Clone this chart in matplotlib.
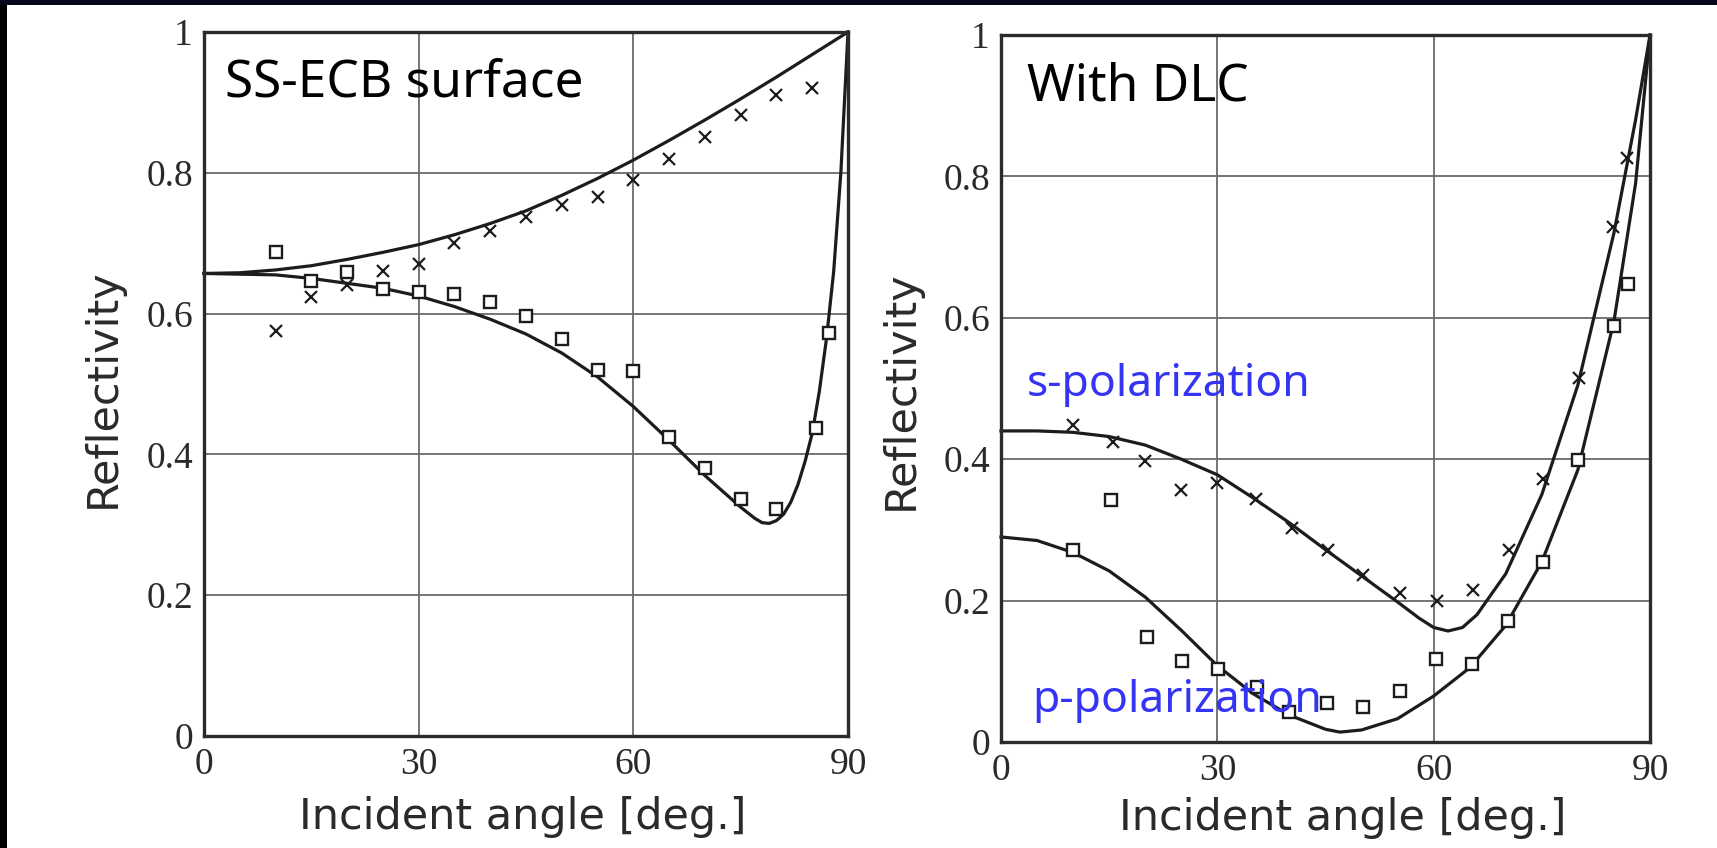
import numpy as np
import matplotlib.pyplot as plt
from matplotlib.patches import Rectangle

# ---- SS-ECB surface (left) ----
ss_angle = [10, 15, 20, 25, 30, 35, 40, 45, 50, 55, 60, 65, 70, 75, 80, 85]
ss_s_meas = [0.575, 0.623, 0.640, 0.660, 0.671, 0.700, 0.718, 0.737, 0.754,
             0.766, 0.790, 0.820, 0.851, 0.882, 0.911, 0.920]
ss_p_angle = [10, 15, 20, 25, 30, 35, 40, 45, 50, 55, 60, 65, 70, 75, 80, 85.5, 87.3]
ss_p_meas = [0.687, 0.647, 0.659, 0.635, 0.630, 0.628, 0.616, 0.596, 0.564,
             0.520, 0.518, 0.425, 0.381, 0.337, 0.323, 0.438, 0.573]

ss_s_fit_angle = [0, 5, 10, 15, 20, 25, 30, 35, 40, 45, 50, 55, 60, 65, 70, 75, 80, 85, 90]
ss_s_fit = [0.657, 0.658, 0.662, 0.668, 0.677, 0.687, 0.698, 0.712, 0.728, 0.746,
            0.768, 0.792, 0.818, 0.846, 0.875, 0.905, 0.936, 0.968, 1.0]
ss_p_fit_angle = [0, 5, 10, 15, 20, 25, 30, 35, 40, 45, 50, 55, 60, 65, 70, 75, 77,
                  78, 79, 80, 81, 82, 83, 84, 85, 86, 87, 88, 89, 90]
ss_p_fit = [0.657, 0.656, 0.655, 0.650, 0.643, 0.636, 0.625, 0.610, 0.592, 0.571,
            0.544, 0.510, 0.468, 0.420, 0.370, 0.325, 0.309, 0.303, 0.302, 0.306,
            0.315, 0.332, 0.357, 0.390, 0.430, 0.490, 0.565, 0.660, 0.800, 1.0]

# ---- With DLC (right) ----
dlc_s_angle = [10, 15.5, 20, 25, 30, 35.4, 40.3, 45.4, 50.2, 55.3, 60.4, 65.4,
               70.4, 75.2, 80.2, 84.9, 86.8]
dlc_s_meas = [0.448, 0.425, 0.398, 0.357, 0.367, 0.344, 0.302, 0.272, 0.236,
              0.211, 0.200, 0.215, 0.271, 0.372, 0.515, 0.728, 0.826]
dlc_p_angle = [10, 15.3, 20.2, 25.1, 30.1, 35.5, 40, 45.2, 50.2, 55.3, 60.3,
               65.3, 70.3, 75.2, 80, 85, 87]
dlc_p_meas = [0.271, 0.342, 0.149, 0.114, 0.103, 0.078, 0.042, 0.055, 0.049,
              0.072, 0.118, 0.111, 0.171, 0.255, 0.399, 0.588, 0.648]

dlc_s_fit_angle = [0, 5, 10, 15, 20, 25, 30, 35, 40, 45, 50, 55, 58, 60, 62, 64,
                   66, 70, 75, 80, 85, 88, 90]
dlc_s_fit = [0.440, 0.440, 0.438, 0.432, 0.420, 0.400, 0.378, 0.345, 0.310, 0.272,
             0.235, 0.198, 0.175, 0.162, 0.157, 0.162, 0.180, 0.238, 0.350, 0.505,
             0.720, 0.880, 1.0]
dlc_p_fit_angle = [0, 5, 10, 15, 20, 25, 30, 35, 40, 45, 47, 50, 55, 60, 65, 70,
                   75, 80, 85, 88, 90]
dlc_p_fit = [0.290, 0.285, 0.268, 0.242, 0.205, 0.158, 0.108, 0.068, 0.038, 0.018,
             0.014, 0.017, 0.033, 0.065, 0.105, 0.165, 0.255, 0.385, 0.595, 0.790, 1.0]

x_ticks = [0, 30, 60, 90]
y_ticks = [0, 0.2, 0.4, 0.6, 0.8, 1.0]
y_ticklabels = ['0', '0.2', '0.4', '0.6', '0.8', '1']

W, H = 1717, 848
fig = plt.figure(figsize=(W / 100, H / 100), dpi=100, facecolor='white')
# dark strips along the left and top edges
fig.patches.append(Rectangle((0, 0), 7 / W, 1, transform=fig.transFigure,
                             facecolor='black', edgecolor='none'))
fig.patches.append(Rectangle((0, 1 - 5 / H), 1, 5 / H, transform=fig.transFigure,
                             facecolor='#07071a', edgecolor='none'))

ax1 = fig.add_axes([204 / W, 1 - 736 / H, 644 / W, 704 / H])
ax2 = fig.add_axes([1001 / W, 1 - 742 / H, 649 / W, 707 / H])

line_c = '#1c1c1c'
for ax in (ax1, ax2):
    ax.set_xlim(0, 90)
    ax.set_ylim(0, 1)
    ax.set_xticks(x_ticks)
    ax.set_yticks(y_ticks)
    ax.set_yticklabels(y_ticklabels)
    ax.grid(True, color='#6a6a6a', linewidth=1.3)
    ax.set_axisbelow(True)
    ax.tick_params(length=0, labelsize=27, labelcolor='#2a2a2a', pad=8)
    for lab in ax.get_xticklabels() + ax.get_yticklabels():
        lab.set_fontfamily('Liberation Serif')
    for sp in ax.spines.values():
        sp.set_linewidth(2.4)
        sp.set_color('#2b2b2b')
    ax.set_xlabel('Incident angle [deg.]', fontsize=31, color='#2a2a2a', va='center')
    ax.set_ylabel('Reflectivity', fontsize=31, color='#2a2a2a', va='center')

ax1.xaxis.set_label_coords(0.495, -0.115)
ax1.yaxis.set_label_coords(-0.157, 0.494)
ax2.xaxis.set_label_coords(0.527, -0.1075)
ax2.yaxis.set_label_coords(-0.154, 0.498)

mk = dict(linestyle='none', color=line_c)
ax1.plot(ss_s_fit_angle, ss_s_fit, color=line_c, linewidth=2.3, clip_on=False)
ax1.plot(ss_p_fit_angle, ss_p_fit, color=line_c, linewidth=2.3, clip_on=False)
ax1.plot(ss_angle, ss_s_meas, marker='x', markersize=9, markeredgewidth=1.6, **mk)
ax1.plot(ss_p_angle, ss_p_meas, marker='s', markersize=8, markeredgewidth=1.7,
         markerfacecolor='white', **mk)

ax2.plot(dlc_s_fit_angle, dlc_s_fit, color=line_c, linewidth=2.3, clip_on=False)
ax2.plot(dlc_p_fit_angle, dlc_p_fit, color=line_c, linewidth=2.3, clip_on=False)
ax2.plot(dlc_s_angle, dlc_s_meas, marker='x', markersize=9, markeredgewidth=1.6, **mk)
ax2.plot(dlc_p_angle, dlc_p_meas, marker='s', markersize=8, markeredgewidth=1.7,
         markerfacecolor='white', **mk)

ax1.text(0.033, 0.909, 'SS-ECB surface', transform=ax1.transAxes, fontsize=37,
         family='Noto Sans', color='black', va='baseline', ha='left')
ax2.text(0.040, 0.908, 'With DLC', transform=ax2.transAxes, fontsize=37,
         family='Noto Sans', color='black', va='baseline', ha='left')
ax2.text(0.040, 0.489, 's-polarization', transform=ax2.transAxes, fontsize=32,
         family='Noto Sans', color='#3434f2', va='baseline', ha='left')
ax2.text(0.048, 0.043, 'p-polarization', transform=ax2.transAxes, fontsize=32,
         family='Noto Sans', color='#3434f2', va='baseline', ha='left')

fig.savefig('out.png', dpi=100, facecolor=fig.get_facecolor())
